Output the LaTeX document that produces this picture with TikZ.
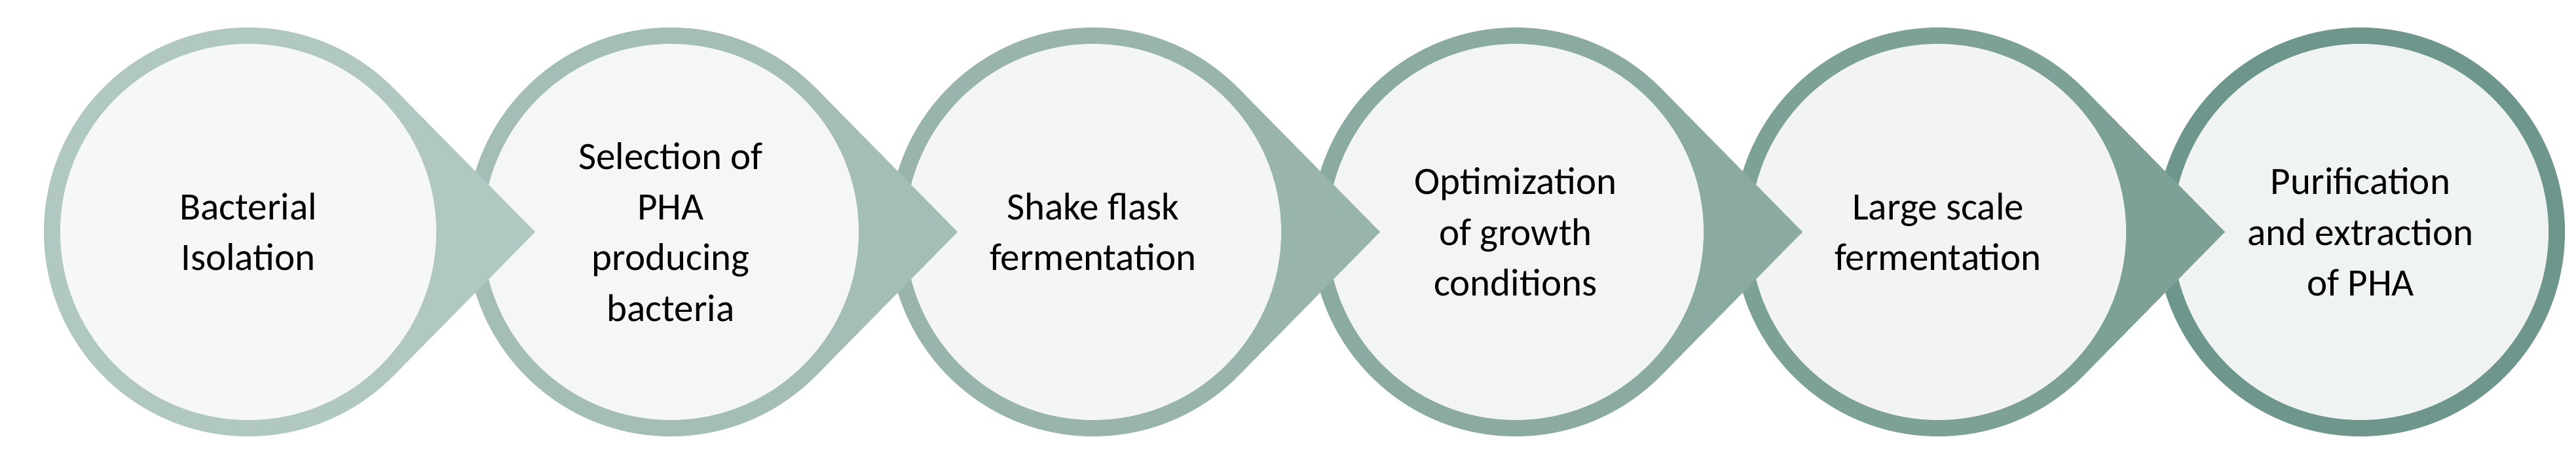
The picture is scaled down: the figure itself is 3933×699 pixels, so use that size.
\documentclass[tikz,border=0pt]{standalone}
\usepackage{fontspec}
\setmainfont{Carlito}
\usetikzlibrary{calc}
\begin{document}
\begin{tikzpicture}[x=0.1mm,y=-0.1mm,
  lbl/.style={align=center,font=\fontsize{16.8}{22}\selectfont,text=black}]
\useasboundingbox (0,0) rectangle (3933,699);
\definecolor{r1}{RGB}{176,199,194}
\definecolor{r2}{RGB}{164,189,183}
\definecolor{r3}{RGB}{152,180,173}
\definecolor{r4}{RGB}{139,170,162}
\definecolor{r5}{RGB}{125,160,151}
\definecolor{r6}{RGB}{111,150,140}
\definecolor{f1}{RGB}{246,248,247}
\definecolor{f2}{RGB}{244,247,246}
\definecolor{f3}{RGB}{243,246,245}
\definecolor{f4}{RGB}{242,245,244}
\definecolor{f5}{RGB}{241,244,243}
\definecolor{f6}{RGB}{239,243,242}
\foreach \i in {6,5,4,3,2,1}{
  \coordinate (c\i) at ({379+(\i-1)*645},354);
  \ifnum\i<6
    \fill[r\i] ($(c\i)+(45:312)$) -- ($(c\i)+(438,0)$) -- ($(c\i)+(-45:312)$) -- cycle;
  \fi
  \fill[r\i] (c\i) circle[radius=312];
  \fill[f\i] (c\i) circle[radius=287];
}
\node[lbl] (t1) at (c1) {Bacterial\\Isolation};
\node[lbl] (t2) at (c2) {Selection of\\PHA\\producing\\bacteria};
\node[lbl] (t3) at (c3) {Shake flask\\fermentation};
\node[lbl] (t4) at (c4) {Optimization\\of growth\\conditions};
\node[lbl] (t5) at (c5) {Large scale\\fermentation};
\node[lbl] (t6) at (c6) {Purification\\and extraction\\of PHA};
\end{tikzpicture}
\end{document}
